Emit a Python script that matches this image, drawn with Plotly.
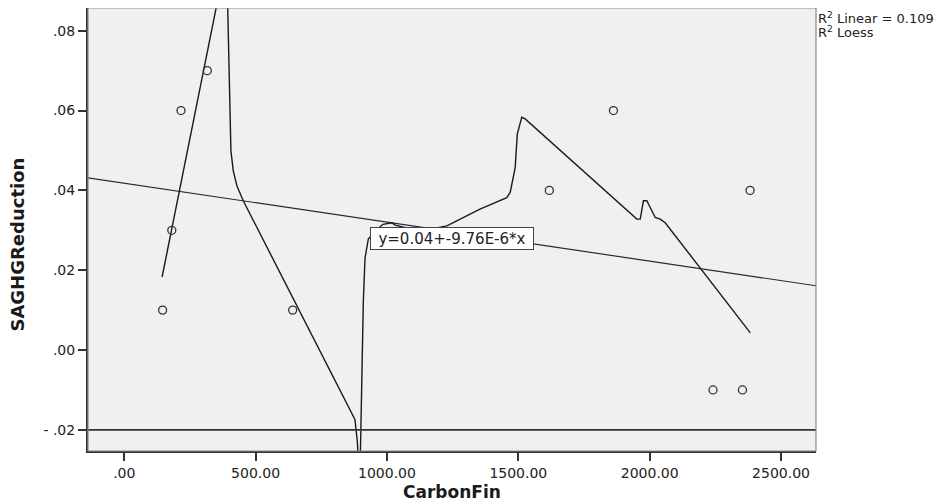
import plotly.graph_objects as go

# ---- data ----
carbon_fin = [146, 181, 216, 316, 641, 1618, 1862, 2241, 2353, 2382]
saghg_red = [0.01, 0.03, 0.06, 0.07, 0.01, 0.04, 0.06, -0.01, -0.01, 0.04]

# loess curve (as drawn, including parts beyond the visible range)
loess_x = [144, 349, 372, 389, 393.7, 406, 415, 429, 453, 878, 887, 892, 895.6, 899,
           910, 916.5, 929, 955, 985, 1018, 1031, 1126, 1228, 1354, 1456, 1469, 1488,
           1496, 1513, 1526, 1951, 1964, 1976, 1989, 2021, 2040, 2059, 2383]
loess_y = [0.0183, 0.0858, 0.093, 0.0998, 0.0858, 0.0499, 0.0449, 0.0411, 0.0374,
           -0.0174, -0.0228, -0.0278, -0.0329, -0.0253, 0.0123, 0.0231, 0.0278, 0.0298,
           0.0315, 0.0319, 0.0313, 0.0298, 0.0311, 0.0353, 0.0382, 0.0395, 0.0457,
           0.0541, 0.0583, 0.0579, 0.0328, 0.0328, 0.0374, 0.0374, 0.0332, 0.0328,
           0.0319, 0.0043]

lin_intercept = 0.0418
lin_slope = -9.76e-6
ref_line_y = -0.02

x_range = [-138, 2633]
y_range = [-0.0253, 0.0857]

x_tickvals = [0, 500, 1000, 1500, 2000, 2500]
x_ticktext = [".00", "500.00", "1000.00", "1500.00", "2000.00", "2500.00"]
y_tickvals = [-0.02, 0.0, 0.02, 0.04, 0.06, 0.08]
y_ticktext = ["- .02", ".00", ".02", ".04", ".06", ".08"]

fit_label = "y=0.04+-9.76E-6*x"
fit_label_pos = (1248, 0.028)
legend_lines = ["R<sup>2</sup> Linear = 0.109", "R<sup>2</sup> Loess"]

# ---- figure ----
fig = go.Figure()

lin_x = x_range
lin_y = [lin_intercept + lin_slope * v for v in lin_x]
fig.add_trace(go.Scatter(x=lin_x, y=lin_y, mode="lines",
                         line=dict(color="#2a2a2a", width=1.2), hoverinfo="skip"))

fig.add_trace(go.Scatter(x=loess_x, y=loess_y, mode="lines",
                         line=dict(color="#1a1a1a", width=1.4), hoverinfo="skip"))

fig.add_trace(go.Scatter(x=carbon_fin, y=saghg_red, mode="markers",
                         marker=dict(symbol="circle-open", size=8, color="#333333",
                                     line=dict(color="#333333", width=1.3))))

fig.add_shape(type="line", xref="paper", x0=0, x1=1, yref="y", y0=ref_line_y, y1=ref_line_y,
              line=dict(color="#333333", width=1.6))
fig.add_shape(type="rect", xref="paper", yref="paper", x0=0, x1=1, y0=0, y1=1,
              line=dict(color="#8a8a8a", width=1.2))

fig.add_annotation(x=fit_label_pos[0], y=fit_label_pos[1], xref="x", yref="y",
                   text=fit_label, showarrow=False,
                   font=dict(family="DejaVu Sans", size=15, color="#222222"),
                   bgcolor="white", bordercolor="#444444", borderwidth=1,
                   width=160, height=19, borderpad=1)

for i, t in enumerate(legend_lines):
    fig.add_annotation(xref="paper", yref="paper", x=1, y=1, xanchor="left", yanchor="middle",
                       yshift=-10 - 14 * i, text=t, showarrow=False, align="left",
                       font=dict(family="DejaVu Sans", size=13, color="#222222"))

fig.add_annotation(xref="paper", yref="paper", x=0.5, y=0, yanchor="middle", yshift=-41,
                   text="<b>CarbonFin</b>", showarrow=False,
                   font=dict(family="DejaVu Sans", size=17, color="#1a1a1a"))
fig.add_annotation(xref="paper", yref="paper", x=0, y=0.466, xanchor="center",
                   yanchor="middle", xshift=-70, textangle=-90,
                   text="<b>SAGHGReduction</b>", showarrow=False,
                   font=dict(family="DejaVu Sans", size=18, color="#1a1a1a"))

fig.update_layout(
    width=941, height=495,
    margin=dict(l=80, r=133, t=0, b=52),
    paper_bgcolor="white", plot_bgcolor="#f0f0f0",
    showlegend=False,
    font=dict(family="DejaVu Sans", size=14, color="#222222"),
)
fig.update_xaxes(range=x_range, tickvals=x_tickvals, ticktext=x_ticktext,
                 showgrid=False, zeroline=False, showline=True, linecolor="#333333",
                 linewidth=2, ticks="outside", ticklen=8, tickwidth=2, tickcolor="#333333",
                 tickfont=dict(size=14))
fig.update_yaxes(range=y_range, tickvals=y_tickvals, ticktext=y_ticktext,
                 showgrid=False, zeroline=False, showline=True, linecolor="#333333",
                 linewidth=2, ticks="outside", ticklen=8, tickwidth=2, tickcolor="#333333",
                 tickfont=dict(size=14))

fig.write_html("out.html")
